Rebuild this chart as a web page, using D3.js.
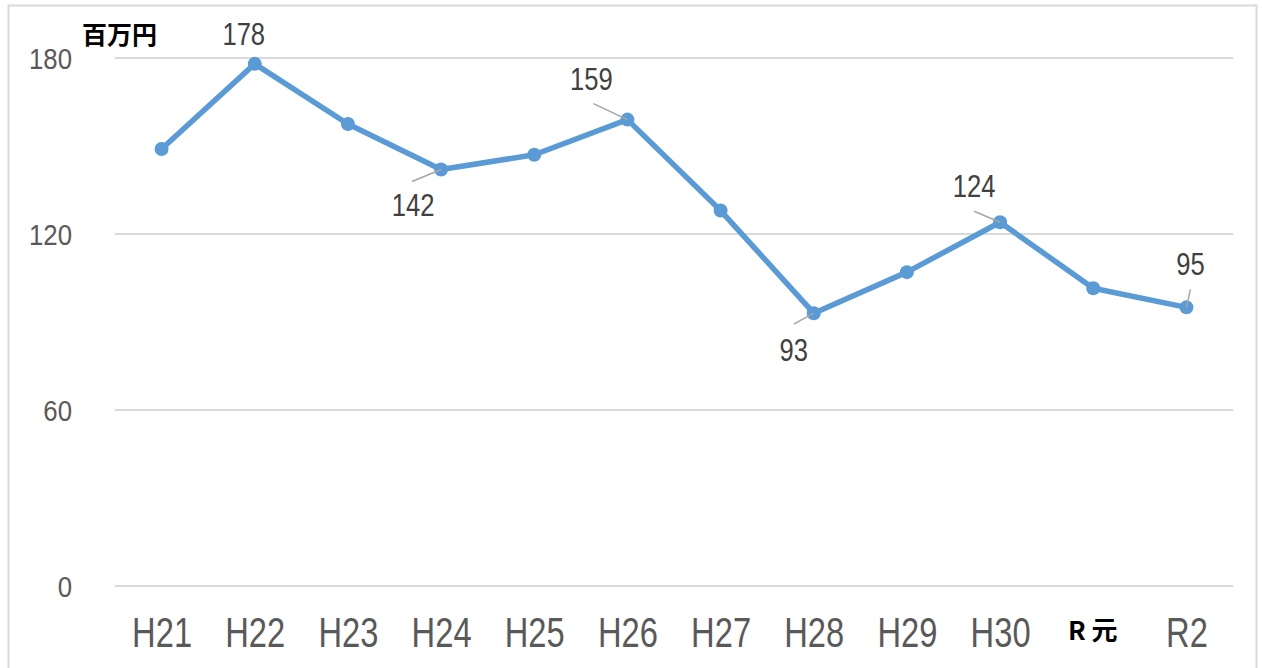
<!DOCTYPE html>
<html><head><meta charset="utf-8">
<script src="https://cdn.jsdelivr.net/npm/d3@7"></script>
<style>body{margin:0;background:#fff}</style>
</head><body>
<svg id="c" width="1262" height="668"></svg>
<script>
const categories = ["H21","H22","H23","H24","H25","H26","H27","H28","H29","H30","R元","R2"];
const values = [149,178,157.5,142,147,159,128,93,107,124,101.5,95];
const labeled = ["H22","H24","H26","H28","H30","R2"];
const yTicks = [0,60,120,180];
const unitLabel = "百万円";

const svg = d3.select("#c");
svg.append("rect").attr("x",8.5).attr("y",5.5).attr("width",1248).attr("height",680)
  .attr("fill","#fff").attr("stroke","#d9d9d9").attr("stroke-width",2);

const x = d3.scalePoint().domain(categories).range([115,1233]).padding(0.5);
const y = d3.scaleLinear().domain([0,180]).range([586,58]);
const numFont = "'Liberation Sans',Arial,sans-serif";

// grid
svg.append("g").selectAll("line").data(yTicks).join("line")
  .attr("x1",115).attr("x2",1233).attr("y1",d=>y(d)).attr("y2",d=>y(d))
  .attr("stroke","#d9d9d9").attr("stroke-width",2);

// y axis labels
const yAxis = d3.axisLeft(y).tickValues(yTicks).tickSize(0).tickPadding(0);
const gy = svg.append("g").attr("transform","translate(72,0)").call(yAxis);
gy.select(".domain").remove();
gy.selectAll("text").attr("font-family",numFont).attr("font-size",30).attr("fill","#595959")
  .attr("dy","0.36em").attr("transform","scale(0.86,1)");

// x axis labels
const xAxis = d3.axisBottom(x).tickSize(0).tickPadding(0);
const gx = svg.append("g").attr("transform","translate(0,632)").call(xAxis);
gx.select(".domain").remove();
gx.selectAll("text").attr("dy","0.36em").attr("fill","#595959")
  .attr("font-family",numFont).attr("font-size",43).attr("transform","scale(0.76,1)");
gx.selectAll("text").filter(d=>d==="R元")
  .attr("font-family","'Noto Sans CJK JP',sans-serif").attr("font-weight","bold")
  .attr("font-size",26).attr("fill","#000").attr("dy","0.3em").attr("transform",null)
  .attr("x",-1).attr("xml:space","preserve").text("R 元");

// unit
svg.append("text").attr("x",82).attr("y",44).text(unitLabel)
  .attr("font-family","'Noto Sans CJK JP',sans-serif").attr("font-weight","bold")
  .attr("font-size",25).attr("fill","#000");

// line
const data = categories.map((c,i)=>({c,v:values[i]}));
svg.append("path").datum(data)
  .attr("d",d3.line().x(d=>x(d.c)).y(d=>y(d.v)))
  .attr("fill","none").attr("stroke","#5b9bd5").attr("stroke-width",5.5).attr("stroke-linejoin","round");
svg.append("g").selectAll("circle").data(data).join("circle")
  .attr("cx",d=>x(d.c)).attr("cy",d=>y(d.v)).attr("r",7).attr("fill","#5b9bd5");

// data labels with leader lines
const off = {"H22":[-11,-19,null],"H24":[-28,47,[-29,12]],"H26":[-36,-30,[-34,-16]],
  "H28":[-20,48,[-20,11]],"H30":[-26,-25,[-26,-11]],"R2":[4,-32,[4,-18]]};
const lg = svg.append("g");
data.filter(d=>labeled.includes(d.c)).forEach(d=>{
  const px=x(d.c), py=y(d.v), o=off[d.c];
  if(o[2]) lg.append("line").attr("x1",px).attr("y1",py).attr("x2",px+o[2][0]).attr("y2",py+o[2][1])
    .attr("stroke","#a6a6a6").attr("stroke-width",1.5);
  lg.append("g").attr("transform",`translate(${px+o[0]},${py+o[1]})`)
    .append("text").attr("transform","scale(0.8,1)").text(d3.format("d")(d.v))
    .attr("text-anchor","middle").attr("font-family",numFont).attr("font-size",32).attr("fill","#404040");
});
</script>
</body></html>
